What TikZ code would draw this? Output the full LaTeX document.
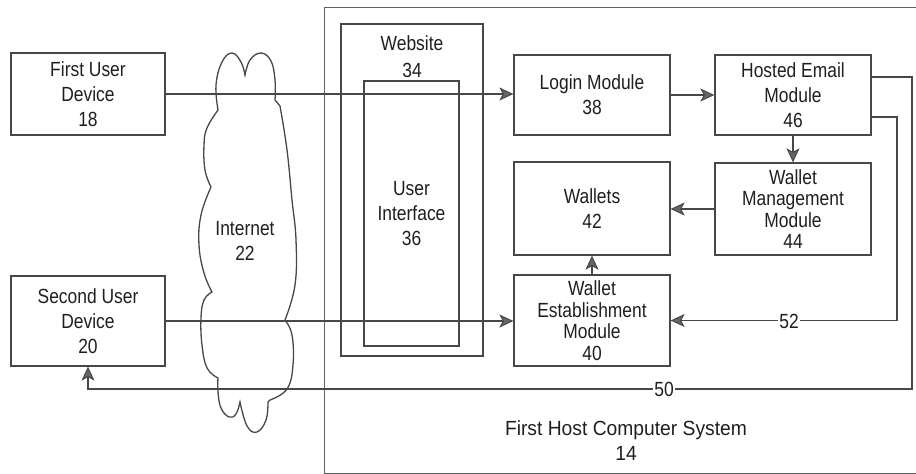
\documentclass[tikz,border=0pt]{standalone}
\usepackage{fontspec}
\setmainfont{Liberation Sans}[FakeStretch=0.85]
\newfontfamily\widerfont{Liberation Sans}[FakeStretch=0.94]
\usetikzlibrary{arrows.meta,calc}

\begin{document}
\begin{tikzpicture}[x=1pt,y=-1pt,
  ln/.style={draw=black!72, line width=1.3pt},
  box/.style={ln, rectangle, inner sep=0pt, align=center,
    font=\fontsize{20.5}{25}\selectfont, text=black!88},
  tight/.style={font=\fontsize{20.5}{21.5}\selectfont},
  txt/.style={align=center, inner sep=0pt,
    font=\fontsize{20.5}{25}\selectfont, text=black!88},
  arr/.style={ln, -{Stealth[length=14pt,width=13pt,inset=3.5pt,fill=black!60,line width=1pt]}},
  tag/.style={fill=white, inner sep=1pt,
    font=\fontsize{20.5}{25}\selectfont, text=black!88}
]
\useasboundingbox (0,0) rectangle (916,474);
\clip (0,0) rectangle (916,474);

% host computer system frame (runs off to the right)
\draw[draw=black!62, line width=1pt] (960,7) -- (324,7) -- (324,473) -- (960,473);
\node[txt, font=\widerfont\fontsize{20.5}{25}\selectfont] (host) at (626,441)
  {First Host Computer System\\14};

% user devices
\node[box, minimum width=154pt, minimum height=82pt] (fud) at (88,94)
  {First User\\Device\\18};
\node[box, minimum width=154pt, minimum height=90pt] (sud) at (88,321)
  {Second User\\Device\\20};

% internet cloud
\draw[ln]
  (218,110)
  -- plot[smooth,tension=0.7] coordinates {(218,110) (216,85) (222,62) (232,53) (241,62) (245,75)}
  -- plot[smooth,tension=0.7] coordinates {(245,75) (250,60) (261,53) (271,61) (275,80) (275,100)}
  -- plot[smooth,tension=0.7] coordinates {(280,106) (287,150) (292,200) (296,240) (295,285) (285,320)}
  -- plot[smooth,tension=0.7] coordinates {(285,320) (292,335) (293,365) (287,389) (270,400)}
  -- plot[smooth,tension=0.7] coordinates {(268,402) (266,420) (257,432) (247,426) (240,402)}
  -- plot[smooth,tension=0.7] coordinates {(240,402) (236,414) (229,417) (221,408) (218,392) (218,378)}
  -- plot[smooth,tension=0.7] coordinates {(218,378) (207,368) (202,345) (201,318) (204,300) (212,292)}
  -- plot[smooth,tension=0.7] coordinates {(212,292) (204,273) (199,245) (201,215) (211,187)}
  -- plot[smooth,tension=0.7] coordinates {(211,187) (205,170) (204,145) (207,128) (218,110)}
  -- cycle;
\node[txt] (internet) at (245,241) {Internet\\22};

% website and its user interface
\node[box, minimum width=142pt, minimum height=332pt] (web) at (412,190) {};
\node[txt, anchor=north, font=\fontsize{20.5}{27}\selectfont] (webtxt) at (412,35) {Website\\34};
\node[box, minimum width=95pt, minimum height=265pt] (ui) at (411.5,213.5)
  {User\\Interface\\36};

% modules
\node[box, minimum width=156pt, minimum height=80pt] (login) at (592,95)
  {Login Module\\38};
\node[box, minimum width=156pt, minimum height=80pt] (hosted) at (793,95)
  {Hosted Email\\Module\\46};
\node[box, minimum width=156pt, minimum height=93pt] (wallets) at (592,208.5)
  {Wallets\\42};
\node[box, tight, minimum width=156pt, minimum height=92pt] (wmm) at (793,209)
  {Wallet\\Management\\Module\\44};
\node[box, tight, minimum width=156pt, minimum height=91pt] (wem) at (592,320.5)
  {Wallet\\Establishment\\Module\\40};

% connectors
\draw[arr] (fud.east) -- (fud.east -| login.west);
\draw[arr] (login) -- (hosted);
\draw[arr] (hosted.south) -- (wmm.north);
\draw[arr] (wmm.west) -- (wmm.west -| wallets.east);
\draw[arr] (wem.north) -- (wallets.south);
\draw[arr] (sud.east) -- (sud.east -| wem.west);

\coordinate (h52) at ($(hosted.east)+(0,22)$);
\coordinate (r52) at (897,0);
\draw[arr] (h52) -- (h52 -| r52) -- (r52 |- wem.east) -- (wem.east);
\node[tag] (l52) at (789,321) {52};

\coordinate (h50) at ($(hosted.east)+(0,-18)$);
\coordinate (r50) at (912,389);
\draw[arr] (h50) -- (h50 -| r50) -- (r50) -- (r50 -| sud.south) -- (sud.south);
\node[tag] (l50) at (664,389) {50};
\end{tikzpicture}
\end{document}
